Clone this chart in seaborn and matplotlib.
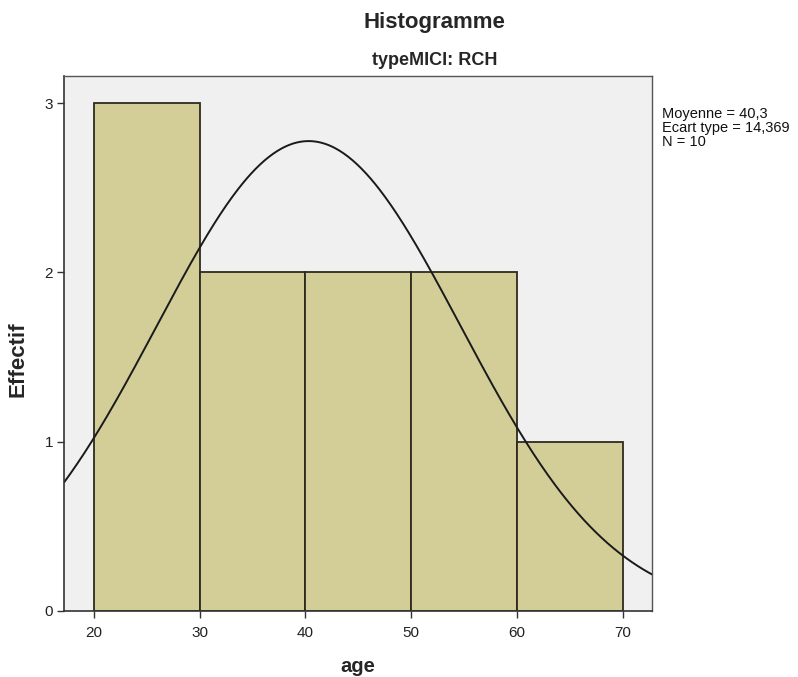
import numpy as np
import pandas as pd
import matplotlib
matplotlib.use("Agg")
import matplotlib.pyplot as plt
import seaborn as sns

# Data
bin_edges = [20, 30, 40, 50, 60, 70]
bin_centers = [25, 35, 45, 55, 65]
counts = [3, 2, 2, 2, 1]
mean_age = 40.3
sd_age = 14.369
n_obs = 10
x_ticks = [20, 30, 40, 50, 60, 70]
y_ticks = [0, 1, 2, 3]

sns.set_style("white")
plt.rcParams['font.family'] = ['Liberation Sans', 'DejaVu Sans']

fig = plt.figure(figsize=(7.98, 6.77), dpi=100)
ax = fig.add_axes([0.0802, 0.0975, 0.7368, 0.790])
ax.set_facecolor('#F0F0F0')

df = pd.DataFrame({"age": bin_centers, "count": counts})
sns.histplot(data=df, x="age", weights="count", bins=bin_edges, ax=ax,
             color='#D3CE98', alpha=1, edgecolor='#2E2B1E', linewidth=1.3)

xs = np.linspace(17.16, 72.77, 400)
binw = bin_edges[1] - bin_edges[0]
ys = n_obs * binw / (sd_age * np.sqrt(2 * np.pi)) * np.exp(-0.5 * ((xs - mean_age) / sd_age) ** 2)
sns.lineplot(x=xs, y=ys, ax=ax, color='#1a1a1a', linewidth=1.4)

ax.set_xlim(17.16, 72.77)
ax.set_ylim(0, 3.16)
ax.set_xticks(x_ticks)
ax.set_yticks(y_ticks)
ax.tick_params(axis='both', direction='out', length=5, width=1, color='#333333',
               labelsize=11, labelcolor='#222222', bottom=True, left=True)
ax.tick_params(axis='x', pad=6)
ax.tick_params(axis='y', pad=3)
for side in ['left', 'bottom']:
    ax.spines[side].set_color('#333333')
    ax.spines[side].set_linewidth(1.2)
for side in ['top', 'right']:
    ax.spines[side].set_color('#555555')
    ax.spines[side].set_linewidth(1.0)

ax.set_xlabel('age', fontsize=14.5, fontweight='bold')
ax.set_ylabel('Effectif', fontsize=16, fontweight='bold')
ax.xaxis.set_label_coords(0.5, -0.086)
ax.yaxis.set_label_coords(-0.061, 0.47)

fig.text(0.545, 0.9675, 'Histogramme', ha='center', va='center', fontsize=16, fontweight='bold')
fig.text(0.545, 0.910, 'typeMICI: RCH', ha='center', va='center', fontsize=13, fontweight='bold')

fig.text(0.830, 0.842, 'Moyenne = 40,3\nEcart type = 14,369\nN = 10',
         ha='left', va='top', fontsize=10.5, linespacing=1.0, color='#111111')

fig.savefig('out.png', dpi=100)
